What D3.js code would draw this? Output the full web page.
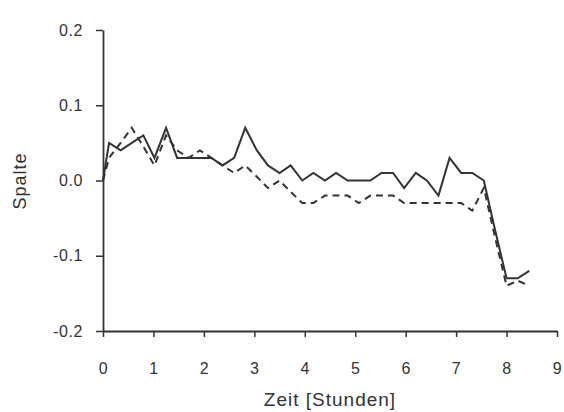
<!DOCTYPE html>
<html>
<head>
<meta charset="utf-8">
<script src="https://cdn.jsdelivr.net/npm/d3@7"></script>
<style>
  body { margin: 0; background: #fff; }
  text { font-family: "Liberation Sans", Arial, sans-serif; fill: #333; }
</style>
</head>
<body>
<div id="canvas"></div>
<script>
// time (hours) and the two measured series
const zeit = [0.0, 0.12, 0.35, 0.57, 0.80, 1.02, 1.25, 1.47, 1.70, 1.92, 2.15, 2.37, 2.60, 2.82,
  3.05, 3.27, 3.50, 3.72, 3.95, 4.17, 4.40, 4.62, 4.85, 5.07, 5.30, 5.52, 5.75, 5.97, 6.20,
  6.42, 6.65, 6.87, 7.10, 7.32, 7.55, 7.77, 8.00, 8.22, 8.45];

const solid = [0.0, 0.05, 0.04, 0.05, 0.06, 0.03, 0.07, 0.03, 0.03, 0.03, 0.03, 0.02, 0.03, 0.07,
  0.04, 0.02, 0.01, 0.02, 0.0, 0.01, 0.0, 0.01, 0.0, 0.0, 0.0, 0.01, 0.01, -0.01, 0.01,
  0.0, -0.02, 0.03, 0.01, 0.01, 0.0, -0.065, -0.13, -0.13, -0.12];

const dashed = [0.0, 0.03, 0.05, 0.07, 0.045, 0.02, 0.06, 0.04, 0.03, 0.04, 0.03, 0.02, 0.01, 0.02,
  0.005, -0.01, 0.0, -0.015, -0.03, -0.03, -0.02, -0.02, -0.02, -0.03, -0.02, -0.02, -0.02, -0.03, -0.03,
  -0.03, -0.03, -0.03, -0.03, -0.04, -0.01, -0.075, -0.14, -0.133, -0.14];

const xTicks = [0, 1, 2, 3, 4, 5, 6, 7, 8, 9];
const yTicks = [-0.2, -0.1, 0.0, 0.1, 0.2];

const width = 564, height = 412;
const margin = { top: 30, left: 103, bottom: 81, right: 7 };
const iwidth = width - margin.left - margin.right;
const iheight = height - margin.top - margin.bottom;

const svg = d3.select("#canvas").append("svg")
    .attr("width", width)
    .attr("height", height);

const g = svg.append("g").attr("transform", `translate(${margin.left},${margin.top})`);

const x = d3.scaleLinear().domain([0, 9]).range([0, iwidth]);
const y = d3.scaleLinear().domain([-0.2, 0.2]).range([iheight, 0]);

// axes
const xAxis = g.append("g")
    .attr("transform", `translate(0,${iheight})`)
    .call(d3.axisBottom(x).tickValues(xTicks).tickFormat(d3.format("d")).tickSize(6).tickSizeOuter(0).tickPadding(26));

const yAxis = g.append("g")
    .call(d3.axisLeft(y).tickValues(yTicks).tickFormat(d => d.toFixed(1)).tickSize(7).tickSizeOuter(0).tickPadding(13));

[xAxis, yAxis].forEach(a => {
  a.select(".domain").attr("stroke", "#333").attr("stroke-width", 1.8);
  a.selectAll(".tick line").attr("stroke", "#333").attr("stroke-width", 1.5);
  a.selectAll(".tick text")
    .style("font-family", "'Liberation Sans', Arial, sans-serif")
    .style("font-size", "16px")
    .style("letter-spacing", "0.6px")
    .attr("fill", "#333");
});

// lines
const line = d3.line()
    .x((d, i) => x(zeit[i]))
    .y(d => y(d));

g.append("path")
    .datum(dashed)
    .attr("fill", "none")
    .attr("stroke", "#333")
    .attr("stroke-width", 2)
    .attr("stroke-dasharray", "7,5")
    .attr("d", line);

g.append("path")
    .datum(solid)
    .attr("fill", "none")
    .attr("stroke", "#333")
    .attr("stroke-width", 2)
    .attr("d", line);

// axis titles
svg.append("text")
    .attr("x", margin.left + x(4.5))
    .attr("y", 406)
    .attr("text-anchor", "middle")
    .style("font-size", "19px")
    .style("letter-spacing", "1px")
    .text("Zeit [Stunden]");

svg.append("text")
    .attr("transform", "translate(26,181) rotate(-90)")
    .attr("text-anchor", "middle")
    .style("font-size", "18px")
    .style("letter-spacing", "1px")
    .text("Spalte");
</script>
</body>
</html>
